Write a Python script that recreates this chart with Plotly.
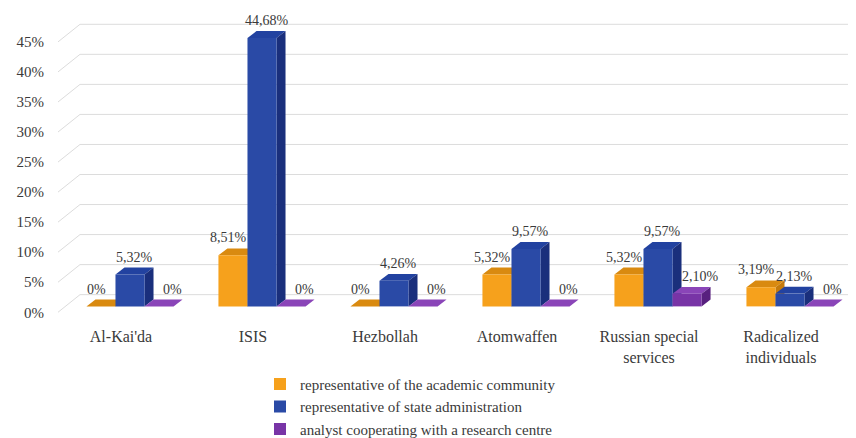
import plotly.graph_objects as go

categories = ["Al-Kai'da", "ISIS", "Hezbollah", "Atomwaffen", "Russian special<br>services", "Radicalized<br>individuals"]
academic = [0, 8.51, 0, 5.32, 5.32, 3.19]
state_admin = [5.32, 44.68, 4.26, 9.57, 9.57, 2.13]
analyst = [0, 0, 0, 0, 2.10, 0]
series_names = ["representative of the academic community",
                "representative of state administration",
                "analyst cooperating with a research centre"]
y_ticks = [0, 5, 10, 15, 20, 25, 30, 35, 40, 45]

FONT = "Liberation Serif"
TXT = "#3a3a3a"

# style
front = ["#F6A11C", "#2A4AA6", "#7834A6"]
top = ["#D98A10", "#2242A0", "#8A45B8"]
side = ["#C47A0B", "#1A2F7C", "#58207F"]
label_xshift = [-9, 0, 9]

# pixel geometry helpers
W, H = 856, 438
ml, mr, mt = 45, 0, 7
px_per_cat = 132.0
first_center_px = 122.0
x_lo = -(first_center_px - ml) / px_per_cat
x_hi = x_lo + (W - ml - mr) / px_per_cat
px_per_pct = 6.15
y_lo = -1.6
y_hi = 48.5
plot_h = (y_hi - y_lo) * px_per_pct
mb = H - mt - plot_h

def ux(px):
    return px / px_per_cat

def uy(px):
    return px / px_per_pct

bw = 0.22
offsets = [-0.33, -0.11, 0.11]
ddx, ddy = ux(9), uy(7)

fig = go.Figure()
xs = list(range(len(categories)))
all_series = [academic, state_admin, analyst]
shapes = []
annotations = []

# back wall gridlines (3D depth)
for v in y_ticks:
    x_front, y_front = x_lo + ux(5), v - uy(6)
    x_back, y_back = x_lo + ux(27), v + uy(12)
    shapes.append(dict(type="path", xref="x", yref="y", layer="below",
                       path=f"M{x_front},{y_front} L{x_back},{y_back} L{x_hi},{y_back}",
                       line=dict(color="#DCDCDC", width=1)))

def fmt(v):
    if v == 0:
        return "0%"
    return f"{v:.2f}".replace(".", ",") + "%"

for si, (name, vals) in enumerate(zip(series_names, all_series)):
    fig.add_trace(go.Bar(
        x=xs, y=vals, name=name, width=bw, offset=offsets[si],
        marker=dict(color=front[si], line=dict(width=0)),
        hoverinfo="skip",
    ))
    for ci, v in enumerate(vals):
        x0 = ci + offsets[si]
        x1 = x0 + bw
        # top face
        shapes.append(dict(type="path", xref="x", yref="y", layer="below",
                           path=f"M{x0},{v} L{x1},{v} L{x1+ddx},{v+ddy} L{x0+ddx},{v+ddy} Z",
                           fillcolor=top[si], line=dict(width=0)))
        # side face
        if v > 0:
            shapes.append(dict(type="path", xref="x", yref="y", layer="below",
                               path=f"M{x1},0 L{x1+ddx},{ddy} L{x1+ddx},{v+ddy} L{x1},{v} Z",
                               fillcolor=side[si], line=dict(width=0)))
        annotations.append(dict(x=(x0 + x1) / 2 + ddx / 2, y=v + ddy, xref="x", yref="y",
                                text=fmt(v), showarrow=False, yanchor="bottom", yshift=1,
                                xshift=label_xshift[si],
                                font=dict(family=FONT, size=14, color=TXT)))

fig.update_layout(
    width=W, height=H,
    margin=dict(l=ml, r=mr, t=mt, b=mb),
    plot_bgcolor="white", paper_bgcolor="white",
    barmode="overlay",
    showlegend=True,
    font=dict(family=FONT, size=15, color=TXT),
    legend=dict(orientation="v", x=(252 - ml) / (W - ml - mr), xanchor="left",
                y=-(368 - (mt + plot_h)) / plot_h, yanchor="top",
                font=dict(family=FONT, size=15, color=TXT),
                itemwidth=30, tracegroupgap=0, bgcolor="rgba(0,0,0,0)"),
    shapes=shapes,
    annotations=annotations,
    xaxis=dict(range=[x_lo, x_hi], tickmode="array",
               tickvals=[c - ux(9) for c in xs], ticktext=categories,
               showgrid=False, zeroline=False, showline=False,
               ticks="outside", ticklen=6, tickcolor="rgba(0,0,0,0)",
               tickfont=dict(family=FONT, size=16, color=TXT)),
    yaxis=dict(range=[y_lo, y_hi], tickmode="array",
               tickvals=[t - uy(6) for t in y_ticks],
               ticktext=[f"{t}%" for t in y_ticks],
               showgrid=False, zeroline=False, showline=False,
               ticks="outside", ticklen=5, tickcolor="rgba(0,0,0,0)",
               tickfont=dict(family=FONT, size=15, color=TXT)),
)

fig.write_html("out.html")
